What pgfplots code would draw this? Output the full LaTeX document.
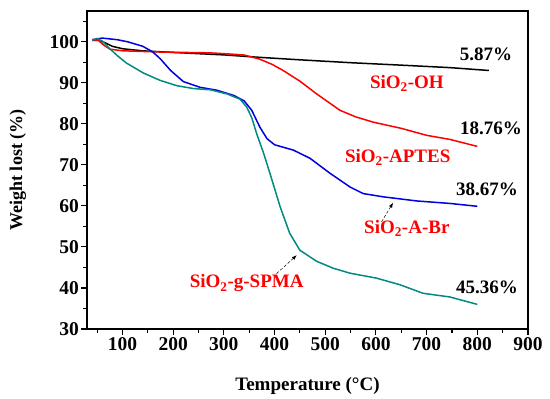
\documentclass[border=0pt]{standalone}
\usepackage{fontspec}
\setmainfont{Liberation Serif}
\usepackage{pgfplots}
\pgfplotsset{compat=1.18}
\usetikzlibrary{arrows.meta}
\definecolor{cteal}{RGB}{0,138,128}
\definecolor{cblue}{RGB}{0,0,225}
\definecolor{cred}{RGB}{255,0,0}
\newcommand{\fs}[1]{\fontsize{#1bp}{#1bp}\selectfont\bfseries}
\newcommand{\sio}{SiO\textsubscript{2}}
\begin{document}
\begin{tikzpicture}
\useasboundingbox (0,0) rectangle (550bp,399bp);
\begin{axis}[
  at={(87bp,70bp)}, anchor=south west,
  width=441bp, height=318bp, scale only axis,
  xmin=30, xmax=900, ymin=30, ymax=107.5,
  xtick={100,200,...,900}, ytick={30,40,...,100},
  minor xtick={50,150,...,850}, minor ytick={35,45,...,105},
  tick align=outside, xtick pos=bottom, ytick pos=left,
  major tick length=6bp, minor tick length=3.5bp,
  every tick/.style={black, line width=1.1bp},
  axis line style={line width=1.8bp},
  /pgf/number format/assume math mode=true,
  ticklabel style={font=\fs{19.5}},
  xticklabel style={inner sep=1bp, yshift=-1bp},
  yticklabel style={inner sep=2bp},
  xlabel={Temperature (°C)}, ylabel={Weight lost (\%)},
  xlabel style={font=\fs{19}, at={(axis description cs:0.5,-0.179)}, anchor=center},
  ylabel style={font=\fs{18}, at={(axis description cs:-0.157,0.5)}, anchor=center},
  clip=false,
  every axis plot/.append style={line width=1.5bp, no marks},
]
% SiO2-OH
\addplot[black] coordinates {(40,100.4)(55,100.3)(65,99.8)(80,98.9)(100,98.3)(139,97.8)(200,97.4)(300,96.8)(371,96.2)(450,95.6)(550,94.9)(650,94.3)(746,93.7)(823,93.0)};
% SiO2-APTES
\addplot[cred] coordinates {(40,100.3)(52,100.4)(62,99.3)(75,98.2)(100,97.8)(174,97.5)(273,97.3)(339,96.8)(370,95.8)(395,94.5)(417,93.0)(450,90.4)(483,87.3)(529,83.3)(560,81.7)(595,80.4)(650,78.9)(700,77.2)(746,76.2)(800,74.5)};
% SiO2-A-Br
\addplot[cblue] coordinates {(40,100.5)(60,100.9)(90,100.5)(110,100.0)(140,98.9)(160,97.5)(175,95.8)(195,93.0)(220,90.3)(253,88.9)(286,88.2)(320,86.9)(340,85.6)(355,83.3)(371,79.2)(385,76.4)(400,74.9)(437,73.6)(470,71.6)(510,67.9)(549,64.6)(575,63.0)(615,62.2)(681,61.2)(746,60.6)(800,59.9)};
% SiO2-g-SPMA
\addplot[cteal] coordinates {(40,100.4)(50,100.8)(60,100.2)(75,98.3)(90,96.6)(108,94.8)(141,92.4)(174,90.6)(207,89.3)(240,88.6)(273,88.3)(306,87.3)(332,86.0)(345,84.1)(355,81.5)(365,77.5)(378,73.0)(391,67.9)(411,59.8)(430,53.3)(450,49.2)(483,46.5)(516,44.8)(549,43.6)(601,42.4)(647,40.8)(693,38.7)(746,37.8)(800,36.0)};
% percent labels
\node[font=\fs{19}] at (axis cs:817,96.9) {5.87\%};
\node[font=\fs{19}] at (axis cs:827,78.9) {18.76\%};
\node[font=\fs{19}] at (axis cs:819,64.1) {38.67\%};
\node[font=\fs{19}] at (axis cs:819,40.2) {45.36\%};
% series names
\node[font=\fs{19}, text=cred] at (axis cs:661,89.8) {\sio-OH};
\node[font=\fs{19}, text=cred] at (axis cs:643,71.9) {\sio-APTES};
\node[font=\fs{19}, text=cred] at (axis cs:661,54.5) {\sio-A-Br};
\node[font=\fs{19}, text=cred] at (axis cs:345,41.1) {\sio-g-SPMA};
% arrows
\draw[densely dashed, line width=0.5bp, -{Latex[length=5bp,width=3.5bp]}] (axis cs:611,56.1) -- (axis cs:634,60.8);
\draw[densely dashed, line width=0.5bp, -{Latex[length=5bp,width=3.5bp]}] (axis cs:404,43.5) -- (axis cs:444,48.0);
\end{axis}
\end{tikzpicture}
\end{document}
